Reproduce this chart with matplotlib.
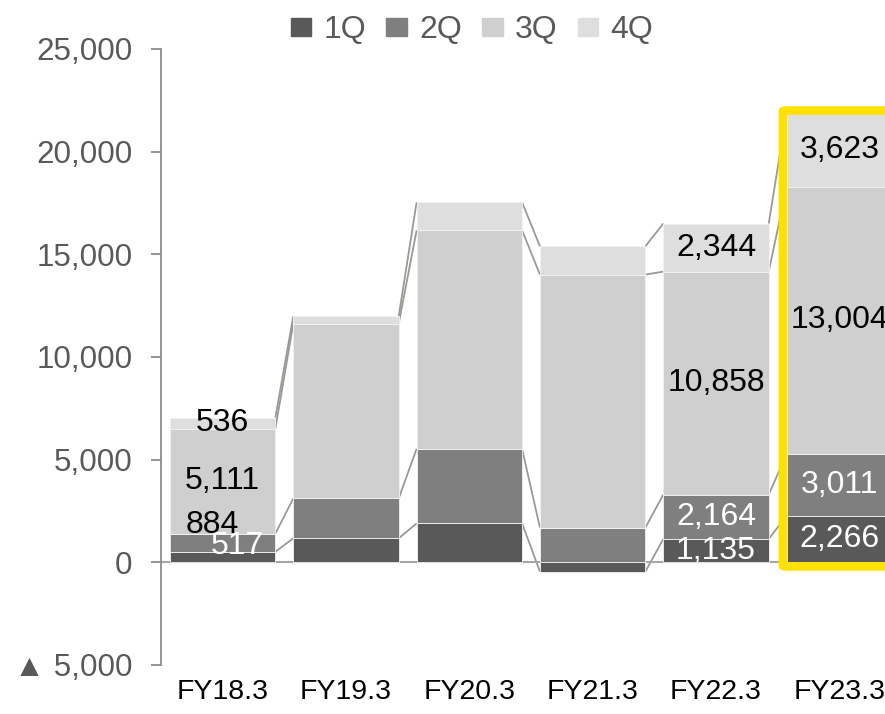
import matplotlib
matplotlib.use("Agg")
import matplotlib.pyplot as plt
from matplotlib.patches import Rectangle, FancyBboxPatch
import numpy as np

plt.rcParams['font.family'] = ['Liberation Sans', 'DejaVu Sans']

categories = ["FY18.3", "FY19.3", "FY20.3", "FY21.3", "FY22.3", "FY23.3"]
series_names = ["1Q", "2Q", "3Q", "4Q"]
q1 = [517, 1170, 1900, -450, 1135, 2266]
q2 = [884, 1945, 3630, 1690, 2164, 3011]
q3 = [5111, 8515, 10640, 12325, 10858, 13004]
q4 = [536, 355, 1365, 1377, 2344, 3623]
colors = ["#595959", "#7f7f7f", "#cfcfcf", "#dedede"]
yticks = [-5000, 0, 5000, 10000, 15000, 20000, 25000]
ytick_labels = ["▲ 5,000", "0", "5,000", "10,000", "15,000", "20,000", "25,000"]
# bars whose segments carry value labels
labelled_bars = [0, 4, 5]

data = [q1, q2, q3, q4]
n = len(categories)
x = np.arange(n)
w = 0.855

fig = plt.figure(figsize=(8.85, 7.14), dpi=100)
ax = fig.add_axes([161/885, 1-665/714, (901-161)/885, (665-49)/714])
ax.set_xlim(-0.5, 5.5)
ax.set_ylim(-5000, 25000)

pos_base = np.zeros(n)
neg_base = np.zeros(n)
bottoms = []
tops = []
for s, vals in enumerate(data):
    vals = np.array(vals, dtype=float)
    b = np.where(vals >= 0, pos_base, neg_base)
    ax.bar(x, vals, w, bottom=b, color=colors[s], edgecolor="#f2f2f2", linewidth=0.6, zorder=2)
    bottoms.append(b.copy())
    tops.append(b + vals)
    pos_base = np.where(vals >= 0, pos_base + vals, pos_base)
    neg_base = np.where(vals < 0, neg_base + vals, neg_base)

# series lines
for s in range(4):
    for i in range(n - 1):
        ax.plot([x[i] + w/2, x[i+1] - w/2], [tops[s][i], tops[s][i+1]],
                color="#9a9a94", lw=1.3, zorder=1.5, solid_capstyle="butt")

ax.axhline(0, color="#a6a6a6", lw=1.5, zorder=1.8)

# data labels
clip_rect = Rectangle((-0.5, 0), 6.5, 30000, transform=ax.transData, visible=False)
ax.add_patch(clip_rect)
offsets = {(0, 1): (-10, 18), (0, 0): (15, 11)}
for i in labelled_bars:
    for s in range(4):
        v = data[s][i]
        yc = bottoms[s][i] + v / 2
        dx, dy = offsets.get((i, s), (0, 0))
        col = "white" if s < 2 else "black"
        if (i, s) == (0, 1):
            col = "black"
        t = ax.annotate(f"{v:,}", (x[i], yc), xytext=(dx * 0.72, dy * 0.72),
                        textcoords="offset points", ha="center", va="center",
                        fontsize=23, color=col, zorder=5)
        t.set_clip_path(clip_rect)

# highlight frame
i = 5
total = sum(data[s][i] for s in range(4))
frame = FancyBboxPatch((x[i] - w/2 - 0.03, -200), w + 0.06, total + 300,
                       boxstyle="round,pad=0,rounding_size=0.02", mutation_aspect=3000,
                       fill=False, edgecolor="#FFE100", linewidth=6.2, zorder=4, clip_on=False)
ax.add_patch(frame)

for sp in ["top", "right", "bottom"]:
    ax.spines[sp].set_visible(False)
ax.spines["left"].set_color("#8c8c8c")
ax.spines["left"].set_linewidth(1.3)
ax.set_yticks(yticks)
ax.set_yticklabels(ytick_labels)
ax.tick_params(axis="y", direction="out", length=7, width=1.3, color="#8c8c8c",
               labelsize=22.6, labelcolor="#595959", pad=13.5)
ax.set_xticks(x)
ax.set_xticklabels(categories)
ax.tick_params(axis="x", length=0, labelsize=20.5, labelcolor="black", pad=10)

handles = [Rectangle((0, 0), 1, 1, color=c) for c in colors]
leg = fig.legend(handles, series_names, loc="center", bbox_to_anchor=(472/885, 1-30/714),
                 ncol=4, frameon=False, fontsize=23, labelcolor="#595959",
                 handlelength=0.64, handleheight=0.5, handletextpad=0.38, columnspacing=0.64)

fig.savefig("out.png", dpi=100)
